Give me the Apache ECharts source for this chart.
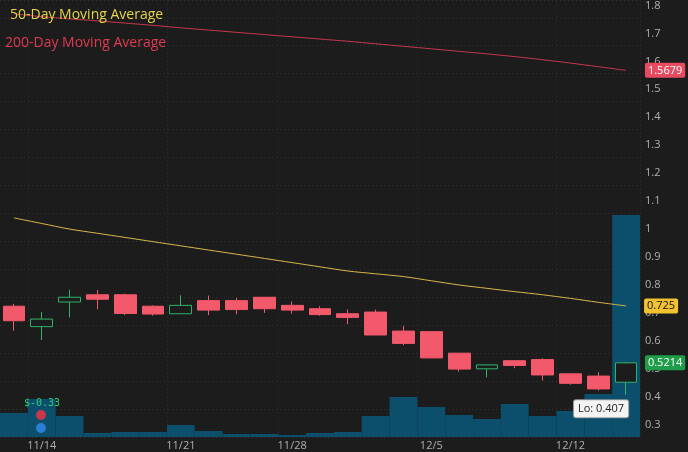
<!DOCTYPE html>
<html><head><meta charset="utf-8">
<script src="https://cdn.jsdelivr.net/npm/echarts@6/dist/echarts.min.js"></script>
<style>html,body{margin:0;background:#1c1c1c}#c{width:688px;height:452px}</style>
</head><body><div id="c"></div>
<script>
const dates=['11/11','11/14','11/15','11/16','11/17','11/18','11/21','11/22','11/23','11/25','11/28','11/29','11/30','12/1','12/2','12/5','12/6','12/7','12/8','12/9','12/12','12/13','12/14'];
const shownDates=['11/14','11/21','11/28','12/5','12/12'];
// [open, close, low, high]
const ohlc=[[.724,.672,.636,.732],[.651,.678,.603,.703],[.739,.756,.684,.783],[.765,.749,.713,.782],[.765,.698,.692,.769],[.724,.696,.690,.727],[.697,.727,.697,.763],[.744,.710,.692,.762],[.744,.712,.695,.754],[.756,.715,.700,.756],[.727,.710,.697,.741],[.715,.694,.690,.724],[.697,.684,.660,.712],[.703,.621,.621,.712],[.635,.591,.584,.654],[.633,.539,.539,.633],[.556,.499,.490,.556],[.500,.514,.470,.514],[.529,.512,.502,.531],[.533,.478,.458,.538],[.482,.448,.443,.482],[.474,.428,.422,.488],[.452,.5214,.407,.525]];
const volume=[24,38,21,4,5,5,12,6,3,3,2,4,5,21,40,30,22,18,33,21,26,43,222];
const ma50=[1.04,1.02,1.0,.985,.97,.955,.94,.925,.91,.895,.88,.865,.85,.84,.83,.815,.80,.788,.776,.765,.752,.738,.725];
const ma200=[1.77,1.76,1.752,1.745,1.737,1.729,1.72,1.712,1.704,1.696,1.688,1.68,1.672,1.663,1.654,1.645,1.636,1.627,1.617,1.606,1.594,1.581,1.5679];
const yTicks=[0.3,0.4,0.5,0.6,0.7,0.8,0.9,1,1.1,1.2,1.3,1.4,1.5,1.6,1.7,1.8];
const ch=echarts.init(document.getElementById('c'));
const tagLabel=(bg,fg)=>({show:true,position:'inside',color:fg,backgroundColor:bg,padding:[2,3],borderRadius:2,fontSize:11,fontFamily:'Open Sans'});
ch.setOption({
 backgroundColor:'#1c1c1c',animation:false,
 grid:[{left:0,right:48,top:0,bottom:15},{left:0,right:48,top:0,bottom:15}],
 xAxis:[{type:'category',data:dates,gridIndex:0,axisLine:{show:false},axisTick:{show:false},
   axisLabel:{color:'#b0b0b0',fontSize:11,fontFamily:'Open Sans',margin:3,interval:0,formatter:v=>shownDates.includes(v)?v:''},
   splitLine:{show:true,interval:(i,v)=>shownDates.includes(v),lineStyle:{color:'#333',type:[1,3]}}},
  {type:'category',data:dates,gridIndex:1,show:false}],
 yAxis:[{type:'value',position:'right',min:0.256,max:1.818,interval:0.1,gridIndex:0,
   axisLine:{show:false},axisTick:{show:false},
   axisLabel:{color:'#b0b0b0',fontSize:11,fontFamily:'Open Sans',margin:5,customValues:yTicks,formatter:v=>String(+v.toFixed(1))},
   splitLine:{show:true,lineStyle:{color:'#333',type:[1,3]}}},
  {type:'value',min:0,max:437,gridIndex:1,show:false}],
 series:[
  {type:'bar',xAxisIndex:1,yAxisIndex:1,data:volume,barWidth:'100%',itemStyle:{color:'#0b4f6c'},z:1},
  {type:'line',data:ma200,symbol:'none',smooth:0.3,lineStyle:{color:'#c8374e',width:1},z:3,
   markPoint:{symbol:'rect',symbolSize:[1,1],data:[{coord:[22,1.5679],value:'1.5679',symbolOffset:[39,0]}],label:tagLabel('#e64b5f','#fff')}},
  {type:'line',data:ma50,symbol:'none',smooth:0.3,lineStyle:{color:'#d9b84a',width:1},z:3,
   markPoint:{symbol:'rect',symbolSize:[1,1],data:[{coord:[22,0.725],value:'0.725',symbolOffset:[35,0]}],label:tagLabel('#f2c230','#111')}},
  {type:'candlestick',data:ohlc,barWidth:'80%',z:4,
   itemStyle:{color:'#1c1c1c',color0:'#f2596b',borderColor:'#2fb36b',borderColor0:'#f2596b',borderWidth:1},
   markPoint:{symbol:'rect',symbolSize:[1,1],data:[
     {coord:[22,0.5214],value:'0.5214',symbolOffset:[39,0],label:tagLabel('#1f9e4a','#fff')},
     {coord:[22,0.407],value:'Lo: 0.407',symbolOffset:[-25,14],label:{...tagLabel('#f4f4f4','#222'),borderColor:'#999',borderWidth:1,padding:[3,4]}}]}}
 ],
 graphic:[
  {type:'text',z:100,left:10,top:8,style:{text:'50-Day Moving Average',fill:'#e5d54a',fontSize:14,fontFamily:'Open Sans'}},
  {type:'text',z:100,left:5,top:36,style:{text:'200-Day Moving Average',fill:'#de3a52',fontSize:14,fontFamily:'Open Sans'}},
  {type:'text',z:100,left:24,top:398,style:{text:'$-0.33',fill:'#2fd07a',fontSize:10,fontFamily:'DejaVu Sans Mono'}},
  {type:'circle',z:100,shape:{cx:41,cy:415,r:5},style:{fill:'#c8374e'}},
  {type:'circle',z:100,shape:{cx:41,cy:428,r:5},style:{fill:'#2a7fd4'}}
 ]
});
</script></body></html>
